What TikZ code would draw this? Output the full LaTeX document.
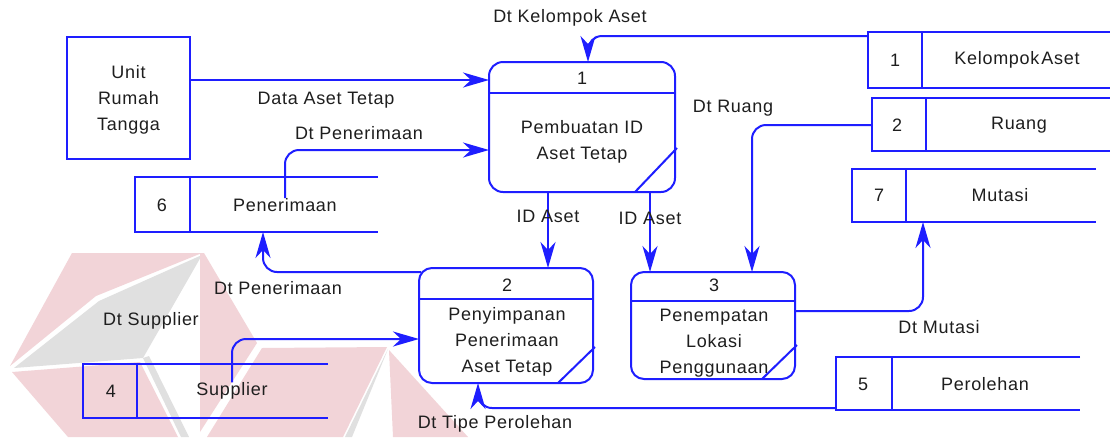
\documentclass[tikz,border=0pt]{standalone}
\usepackage{fontspec}
\setmainfont{Liberation Sans}[LetterSpace=4]
\usetikzlibrary{arrows.meta}
\definecolor{dfdblue}{RGB}{30,30,255}
\definecolor{txtc}{RGB}{30,30,30}
\definecolor{markpink}{RGB}{242,212,216}
\definecolor{markgrey}{RGB}{224,224,224}

\begin{document}
\begin{tikzpicture}[x=1pt,y=-1pt,
  ln/.style={draw=dfdblue,line width=2pt},
  flow/.style={ln,-{Stealth[length=26pt,width=15pt,inset=8pt,sharp]}},
  roundbend/.style={rounded corners=14pt},
  lbl/.style={text=txtc,font=\fontsize{18}{26}\selectfont,inner sep=0pt,align=center},
  proc/.style={ln,rounded corners=14pt,inner sep=0pt},
  extent/.style={ln,inner sep=0pt},
]
\useasboundingbox[fill=white] (0,0) rectangle (1110,437);

% faint logo in the background
\fill[markpink] (72,253) -- (202,253) -- (96,296) -- (10,366) -- cycle;
\fill[markgrey] (202,255) -- (99,301) -- (14,368) -- (143,358) -- cycle;
\fill[markgrey] (143,358) -- (149,356) -- (189,437) -- (181,437) -- cycle;
\fill[markpink] (12,372) -- (140,362) -- (178,437) -- (68,437) -- cycle;
\fill[markpink] (200,253) -- (204,253) -- (257,343) -- (200,432) -- cycle;
\fill[markpink] (262,348) -- (387,347) -- (343,437) -- (207,437) -- cycle;
\fill[markgrey] (388,349) -- (352,437) -- (345,437) -- cycle;
\fill[markpink] (389,350) -- (468,437) -- (393,437) -- cycle;

% external entity
\node[extent,minimum width=123pt,minimum height=122pt] (ext) at (128.5,98) {};
\node[lbl] (extt) at (128.5,100) {Unit\\Rumah\\Tangga};

% processes
\node[proc,minimum width=186pt,minimum height=130pt] (p1) at (582,127) {};
\draw[ln] (p1.west |- 0,93) -- (p1.east |- 0,93);
\draw[ln] (635,192) -- (677,148);
\node[lbl] (p1n) at (582,78) {1};
\node[lbl] (p1t) at (582,142) {Pembuatan ID\\Aset Tetap};

\node[proc,rounded corners=13pt,minimum width=174pt,minimum height=115pt] (p2) at (506,325.5) {};
\draw[ln] (p2.west |- 0,299) -- (p2.east |- 0,299);
\draw[ln] (558,383) -- (595,347);
\node[lbl] (p2n) at (507,285) {2};
\node[lbl] (p2t) at (507,341.5) {Penyimpanan\\Penerimaan\\Aset Tetap};

\node[proc,rounded corners=13pt,minimum width=164pt,minimum height=107pt] (p3) at (713,325.5) {};
\draw[ln] (p3.west |- 0,301) -- (p3.east |- 0,301);
\draw[ln] (762,379) -- (797,345);
\node[lbl] (p3n) at (714,285) {3};
\node[lbl] (p3t) at (714,343) {Penempatan\\Lokasi\\Penggunaan};

% data stores (open on the right)
\draw[ln] (1110,32) -- (868,32) -- (868,88) -- (1110,88);
\draw[ln] (922,32) -- (922,88);
\coordinate (s1w) at (868,36);
\node[lbl] (s1n) at (895,60) {1};
\node[lbl] (s1t) at (1017,60) {Kelompok\hspace{2pt}Aset};

\draw[ln] (1110,98) -- (872,98) -- (872,151) -- (1110,151);
\draw[ln] (926,98) -- (926,151);
\coordinate (s2w) at (872,125);
\node[lbl] (s2n) at (897,125) {2};
\node[lbl] (s2t) at (1019,125) {Ruang};

\draw[ln] (1096,169) -- (852,169) -- (852,222) -- (1096,222);
\draw[ln] (906,169) -- (906,222);
\coordinate (s7b) at (923,222);
\node[lbl] (s7n) at (879,195) {7};
\node[lbl] (s7t) at (1000,195) {Mutasi};

\draw[ln] (378,177) -- (135,177) -- (135,232) -- (378,232);
\draw[ln] (190,177) -- (190,232);
\coordinate (s6t) at (378,177);
\coordinate (s6b) at (263,232);
\node[lbl] (s6n) at (162,205) {6};
\node[lbl] (s6t) at (285,205) {Penerimaan};

\draw[ln] (328,364) -- (83,364) -- (83,418) -- (328,418);
\draw[ln] (137,364) -- (137,418);
\coordinate (s4t) at (167,364);
\node[lbl] (s4n) at (111,391) {4};
\node[lbl] (s4t) at (232,391) {Supplier};

\draw[ln] (1080,357) -- (836,357) -- (836,410) -- (1080,410);
\draw[ln] (892,357) -- (892,410);
\coordinate (s5w) at (836,408);
\node[lbl] (s5n) at (863,384) {5};
\node[lbl] (s5t) at (985,384) {Perolehan};

% data flows
\coordinate (p1a) at (489,80);
\coordinate (p1b) at (489,150);
\coordinate (p1top) at (588,62);
\coordinate (p2top) at (548,268);
\coordinate (p2left) at (419,339);
\coordinate (p2bot) at (478,383);
\coordinate (p2corner) at (421,272);
\coordinate (p3top1) at (650,272);
\coordinate (p3top2) at (752,272);
\coordinate (p3right) at (795,311);

\draw[flow] (ext.east |- p1a) -- (p1a);
\draw[flow] (s6t) [roundbend] |- (p1b);
\draw[flow] (s1w) [roundbend] -| (p1top);
\draw[flow] (p1.south -| p2top) -- (p2top);
\draw[flow] (p1.south -| p3top1) -- (p3top1);
\draw[flow] (s2w) [roundbend] -| (p3top2);
\draw[flow] (p2corner) [roundbend] -| (s6b);
\draw[flow] (s4t) [roundbend] |- (p2left);
\draw[flow] (s5w) [roundbend] -| (p2bot);
\draw[flow] (p3right) [roundbend] -| (s7b);

% flow labels
\node[lbl] (l1) at (570,18) {Dt Kelompok Aset};
\node[lbl] (l2) at (326,100) {Data Aset Tetap};
\node[lbl] (l3) at (359,133) {Dt Penerimaan};
\node[lbl] (l4) at (733,108) {Dt Ruang};
\node[lbl] (l5) at (548,216) {ID Aset};
\node[lbl] (l6) at (650,218) {ID Aset};
\node[lbl] (l7) at (278,288) {Dt Penerimaan};
\node[lbl] (l8) at (151,321) {Dt Supplier};
\node[lbl] (l9) at (495,424) {Dt Tipe Perolehan};
\node[lbl] (l10) at (939,327) {Dt Mutasi};
\end{tikzpicture}
\end{document}
